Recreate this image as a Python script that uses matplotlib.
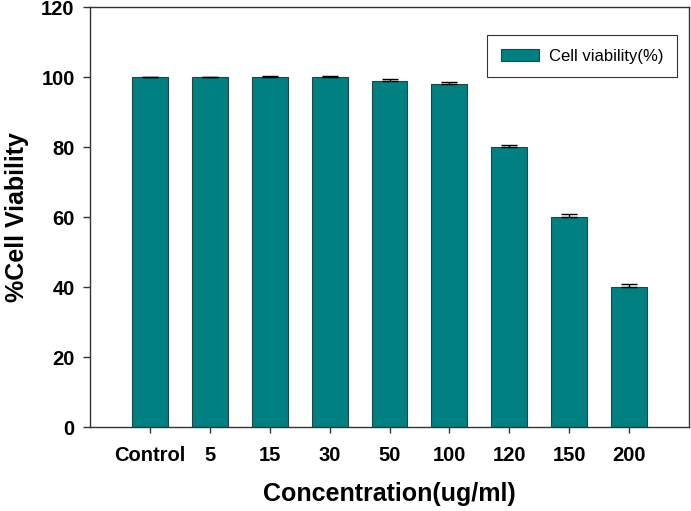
import numpy as np
import matplotlib
matplotlib.use('Agg')
import matplotlib.pyplot as plt

# 数据
categories = ['Control', '5', '15', '30', '50', '100', '120', '150', '200']
viability = [100, 100, 100, 100, 99, 98, 80, 60, 40]
errors = [0, 0.1, 0.2, 0.3, 0.4, 0.5, 0.7, 0.8, 1.0]

plt.rcParams['font.family'] = ['Liberation Sans', 'DejaVu Sans']

fig = plt.figure(figsize=(6.91, 5.11), dpi=100)
ax = fig.add_axes([90 / 691, 1 - 427 / 511, 599 / 691, 420 / 511])

x = np.arange(len(categories))
ax.bar(x, viability, width=0.6, color='#008080', edgecolor='#1e4848', linewidth=0.8,
       label='Cell viability(%)', zorder=2)
ax.errorbar(x, viability, yerr=[np.zeros(len(errors)), errors], fmt='none',
            ecolor='black', elinewidth=1, capsize=6, capthick=1, zorder=3)

ax.set_xlim(-1, 9)
ax.set_ylim(0, 120)
ax.set_yticks(range(0, 121, 20))
ax.set_xticks(x)
ax.set_xticklabels(categories)

for lab in ax.get_xticklabels() + ax.get_yticklabels():
    lab.set_fontweight('bold')
    lab.set_fontsize(14.5)

ax.tick_params(axis='y', direction='out', length=5, width=1, color='#333333', pad=6)
ax.tick_params(axis='x', direction='out', length=4.5, width=1, color='#333333', pad=9.5)

for s in ax.spines.values():
    s.set_color('#333333')
    s.set_linewidth(1)

ax.set_ylabel('%Cell Viability', fontsize=18, fontweight='bold', labelpad=9)
ax.set_xlabel('Concentration(ug/ml)', fontsize=18, fontweight='bold', labelpad=12)

leg = ax.legend(loc='upper right', bbox_to_anchor=(0.98, 0.933), borderaxespad=0,
                fontsize=12, frameon=True, fancybox=False, edgecolor='black',
                handlelength=2.3, handleheight=0.66, borderpad=0.82, handletextpad=0.6)
leg.get_frame().set_linewidth(0.8)

fig.savefig('out.png', dpi=100)
plt.close(fig)
